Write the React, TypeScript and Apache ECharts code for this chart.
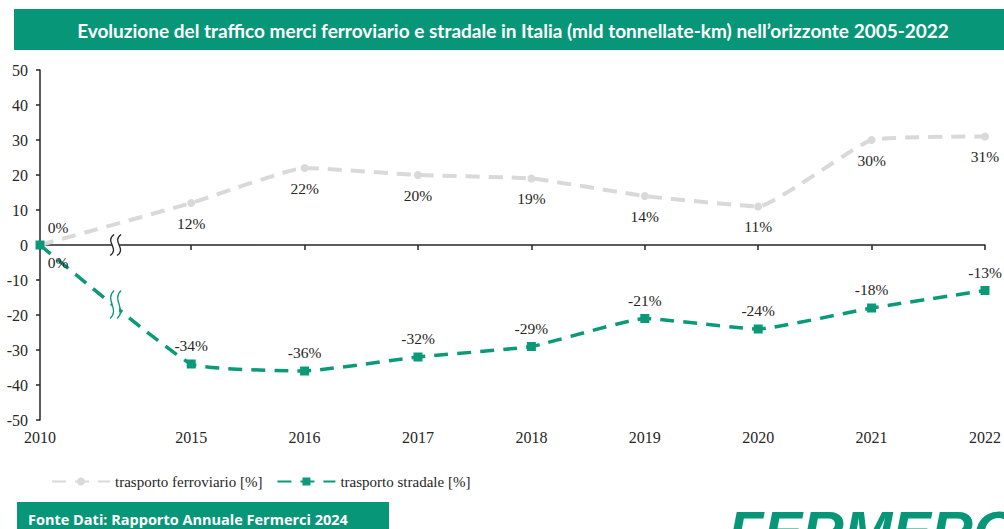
import React, { useEffect, useRef } from "react";
import * as echarts from "echarts";

const years = ["2010", "2015", "2016", "2017", "2018", "2019", "2020", "2021", "2022"];
const ferroviario = [0, 12, 22, 20, 19, 14, 11, 30, 31];
const stradale = [0, -34, -36, -32, -29, -21, -24, -18, -13];
const yMin = -50;
const yMax = 50;
const yStep = 10;
const titleText =
  "Evoluzione del traffico merci ferroviario e stradale in Italia (mld tonnellate-km) nell\u2019orizzonte 2005-2022";
const sourceText = "Fonte Dati: Rapporto Annuale Fermerci 2024";
const legendNames = ["trasporto ferroviario [%]", "trasporto stradale [%]"];

// the gap 2010 -> 2015 is drawn 4/3 as wide as one year (broken axis)
const xPos = years.map((_, i) => (i === 0 ? 0 : i + 1 / 3));

const GREEN = "#0b9a78";
const GRAY = "#d9d9d9";
const SERIF = "'Liberation Serif', 'DejaVu Serif', serif";

export default function App() {
  const ref = useRef<HTMLDivElement>(null);
  useEffect(() => {
    if (!ref.current) return;
    const chart = echarts.init(ref.current, null, { renderer: "svg" });
    const labelFor = (pos: number) => {
      const i = xPos.findIndex((p) => Math.abs(p - pos) < 1e-6);
      return i >= 0 ? years[i] : "";
    };
    const ferroData = ferroviario.map((v, i) =>
      i === 0
        ? { value: [xPos[i], v], label: { position: "top", offset: [18, 2] } }
        : { value: [xPos[i], v] }
    );
    const stradaData = stradale.map((v, i) =>
      i === 0
        ? { value: [xPos[i], v], label: { position: "bottom", offset: [18, -1] } }
        : { value: [xPos[i], v] }
    );
    const option: any = {
      animation: false,
      backgroundColor: "#ffffff",
      grid: { left: 40, right: 19, top: 70, bottom: 109, containLabel: false },
      legend: {
        left: 46,
        top: 469,
        itemWidth: 58,
        itemHeight: 10,
        itemGap: 14,
        textStyle: { fontFamily: SERIF, fontSize: 15, color: "#262626" },
        data: legendNames,
      },
      xAxis: [
        {
          type: "value",
          min: 0,
          max: xPos[xPos.length - 1],
          axisLine: { onZero: true, lineStyle: { color: "#262626", width: 1.5 } },
          axisTick: { show: true, length: 5, customValues: xPos, lineStyle: { color: "#262626", width: 1.5 } },
          axisLabel: { show: false },
          splitLine: { show: false },
        },
        {
          type: "value",
          position: "bottom",
          min: 0,
          max: xPos[xPos.length - 1],
          axisLine: { show: false, onZero: false },
          axisTick: { show: false },
          axisLabel: {
            customValues: xPos,
            formatter: (v: number) => labelFor(v),
            fontFamily: SERIF,
            fontSize: 16,
            color: "#262626",
            margin: 9,
          },
          splitLine: { show: false },
        },
      ],
      yAxis: {
        type: "value",
        min: yMin,
        max: yMax,
        interval: yStep,
        axisLine: { show: true, onZero: false, lineStyle: { color: "#262626", width: 1.5 } },
        axisTick: { show: true, length: 4, lineStyle: { color: "#262626", width: 1.5 } },
        axisLabel: { fontFamily: SERIF, fontSize: 16, color: "#262626", margin: 12 },
        splitLine: { show: false },
      },
      series: [
        {
          name: legendNames[0],
          type: "line",
          xAxisIndex: 0,
          data: ferroData,
          smooth: 0.12,
          symbol: "circle",
          symbolSize: 8,
          itemStyle: { color: GRAY },
          lineStyle: { color: GRAY, width: 4, type: [14, 9] },
          label: {
            show: true,
            position: "bottom",
            distance: 8,
            formatter: (p: any) => p.value[1] + "%",
            fontFamily: SERIF,
            fontSize: 15.5,
            color: "#262626",
          },
          z: 3,
        },
        {
          name: legendNames[1],
          type: "line",
          xAxisIndex: 0,
          data: stradaData,
          smooth: 0.12,
          symbol: "rect",
          symbolSize: 9,
          itemStyle: { color: GREEN },
          lineStyle: { color: GREEN, width: 3.5, type: [14, 9] },
          label: {
            show: true,
            position: "top",
            distance: 6,
            formatter: (p: any) => p.value[1] + "%",
            fontFamily: SERIF,
            fontSize: 15.5,
            color: "#262626",
          },
          z: 4,
        },
      ],
    };
    chart.setOption(option);

    const xBreak = (xPos[0] + xPos[1]) / 2;
    const pTop = chart.convertToPixel({ xAxisIndex: 0, yAxisIndex: 0 }, [xBreak, 0]);
    const pLow = chart.convertToPixel(
      { xAxisIndex: 0, yAxisIndex: 0 },
      [xBreak, (stradale[0] + stradale[1]) / 2]
    );
    const squiggle = (cx: number, cy: number, h: number, color: string, w: number) => ({
      type: "bezierCurve",
      shape: {
        x1: cx + 2,
        y1: cy - h / 2,
        cpx1: cx - 8,
        cpy1: cy - h / 6,
        cpx2: cx + 8,
        cpy2: cy + h / 6,
        x2: cx - 2,
        y2: cy + h / 2,
      },
      style: { stroke: color, lineWidth: w, fill: "none" },
      z: 100,
    });
    const breakMark = (p: number[], h: number, color: string) => [
      {
        type: "rect",
        shape: { x: p[0] - 3.5, y: p[1] - h / 2, width: 7, height: h },
        style: { fill: "#ffffff" },
        z: 99,
      },
      squiggle(p[0] - 3.5, p[1], h, color, 1.3),
      squiggle(p[0] + 3.5, p[1], h, color, 1.3),
    ];

    chart.setOption({
      graphic: [
        {
          type: "rect",
          shape: { x: 14, y: 9, width: 1000, height: 41 },
          style: { fill: "#089679" },
          z: 50,
        },
        {
          type: "text",
          x: 513,
          y: 30,
          style: {
            text: titleText,
            fill: "#ffffff",
            font: "bold 19px Lato, 'Open Sans', sans-serif",
            textAlign: "center",
            textVerticalAlign: "middle",
          },
          z: 51,
        },
        {
          type: "rect",
          shape: { x: 17, y: 502, width: 372, height: 40 },
          style: { fill: "#089679" },
          z: 50,
        },
        {
          type: "text",
          x: 28,
          y: 519,
          style: {
            text: sourceText,
            fill: "#ffffff",
            font: "bold 14.5px 'Open Sans', sans-serif",
            textAlign: "left",
            textVerticalAlign: "middle",
          },
          z: 51,
        },
        {
          type: "text",
          x: 728,
          y: 502,
          style: {
            text: "FERMERCI",
            fill: "#089679",
            font: "italic 900 58px 'Liberation Sans', 'DejaVu Sans', sans-serif",
            textAlign: "left",
            textVerticalAlign: "top",
          },
          z: 51,
        },
        ...breakMark(pTop as number[], 21, "#262626"),
        ...breakMark(pLow as number[], 28, GREEN),
      ],
    });

    return () => chart.dispose();
  }, []);
  return (
    <div
      ref={ref}
      style={{ position: "absolute", left: 0, top: 0, width: 1004, height: 529 }}
    />
  );
}
